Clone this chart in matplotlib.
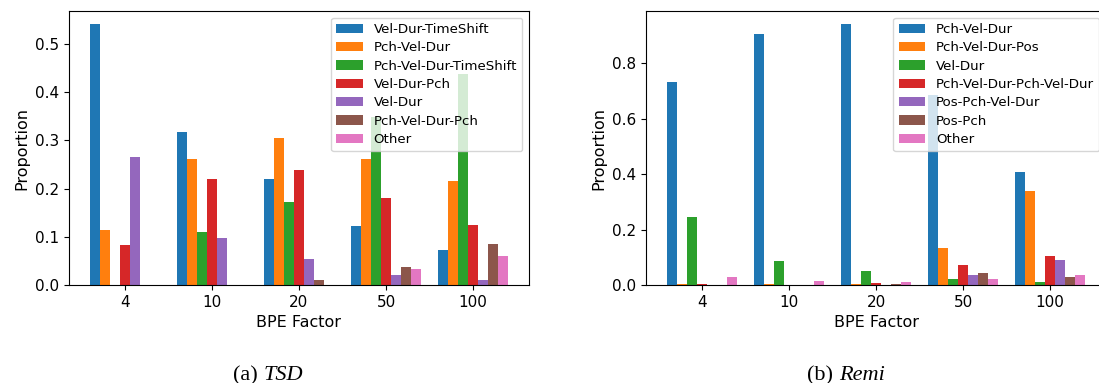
import numpy as np
import matplotlib
matplotlib.use("Agg")
import matplotlib.pyplot as plt

# BPE factors on the x axis
factors = ["4", "10", "20", "50", "100"]

# TSD: proportion of each token-type combination per BPE factor
tsd_labels = ["Vel-Dur-TimeShift", "Pch-Vel-Dur", "Pch-Vel-Dur-TimeShift",
              "Vel-Dur-Pch", "Vel-Dur", "Pch-Vel-Dur-Pch", "Other"]
tsd_vel_dur_timeshift = [0.541, 0.318, 0.219, 0.122, 0.072]
tsd_pch_vel_dur = [0.113, 0.262, 0.305, 0.262, 0.215]
tsd_pch_vel_dur_timeshift = [0.001, 0.109, 0.173, 0.349, 0.437]
tsd_vel_dur_pch = [0.082, 0.219, 0.239, 0.180, 0.124]
tsd_vel_dur = [0.266, 0.097, 0.054, 0.021, 0.010]
tsd_pch_vel_dur_pch = [0.001, 0.001, 0.010, 0.037, 0.085]
tsd_other = [0.001, 0.001, 0.001, 0.033, 0.060]

# Remi: proportion of each token-type combination per BPE factor
remi_labels = ["Pch-Vel-Dur", "Pch-Vel-Dur-Pos", "Vel-Dur",
               "Pch-Vel-Dur-Pch-Vel-Dur", "Pos-Pch-Vel-Dur", "Pos-Pch", "Other"]
remi_pch_vel_dur = [0.733, 0.905, 0.941, 0.686, 0.406]
remi_pch_vel_dur_pos = [0.002, 0.002, 0.002, 0.133, 0.338]
remi_vel_dur = [0.244, 0.086, 0.050, 0.022, 0.011]
remi_pch_vel_dur_pch_vel_dur = [0.002, 0.001, 0.007, 0.072, 0.104]
remi_pos_pch_vel_dur = [0.001, 0.001, 0.001, 0.036, 0.090]
remi_pos_pch = [0.001, 0.001, 0.002, 0.043, 0.029]
remi_other = [0.029, 0.014, 0.011, 0.022, 0.036]

tsd_series = [tsd_vel_dur_timeshift, tsd_pch_vel_dur, tsd_pch_vel_dur_timeshift,
              tsd_vel_dur_pch, tsd_vel_dur, tsd_pch_vel_dur_pch, tsd_other]
remi_series = [remi_pch_vel_dur, remi_pch_vel_dur_pos, remi_vel_dur,
               remi_pch_vel_dur_pch_vel_dur, remi_pos_pch_vel_dur, remi_pos_pch,
               remi_other]

W, H = 1099, 383
fig = plt.figure(figsize=(W / 100, H / 100), dpi=100)


def px_axes(left, top, right, bottom):
    return fig.add_axes([left / W, 1 - bottom / H, (right - left) / W, (bottom - top) / H])


def grouped_bars(ax, series, labels):
    x = np.arange(len(factors))
    n = len(series)
    width = 0.8 / n
    for i, (vals, lab) in enumerate(zip(series, labels)):
        ax.bar(x + (i - (n - 1) / 2) * width, vals, width, label=lab, color=f"C{i}")
    ax.set_xticks(x)
    ax.set_xticklabels(factors)
    ax.set_xlabel("BPE Factor", fontsize=11.5)
    ax.set_ylabel("Proportion", fontsize=11.5)
    ax.tick_params(labelsize=11)
    ax.legend(loc="upper right", fontsize=9.6, labelspacing=0.4)


# both panels share the same size; the right one runs past the figure edge
ax1 = px_axes(69, 11, 529, 285)
grouped_bars(ax1, tsd_series, tsd_labels)

ax2 = px_axes(646, 11, 1106, 285)
grouped_bars(ax2, remi_series, remi_labels)


def caption(cx, prefix, name):
    serif = "Liberation Serif"
    y = 3 / H
    t1 = fig.text(0, y, prefix, fontsize=16, family=serif, va="baseline")
    t2 = fig.text(0, y, name, fontsize=16, family=serif, style="italic", va="baseline")
    fig.canvas.draw()
    r = fig.canvas.get_renderer()
    w1 = t1.get_window_extent(r).width
    w2 = t2.get_window_extent(r).width
    x0 = cx - (w1 + w2) / 2
    t1.set_x(x0 / W)
    t2.set_x((x0 + w1) / W)


caption(268, "(a) ", "TSD")
caption(846, "(b) ", "Remi")

fig.savefig("out.png", dpi=100)
